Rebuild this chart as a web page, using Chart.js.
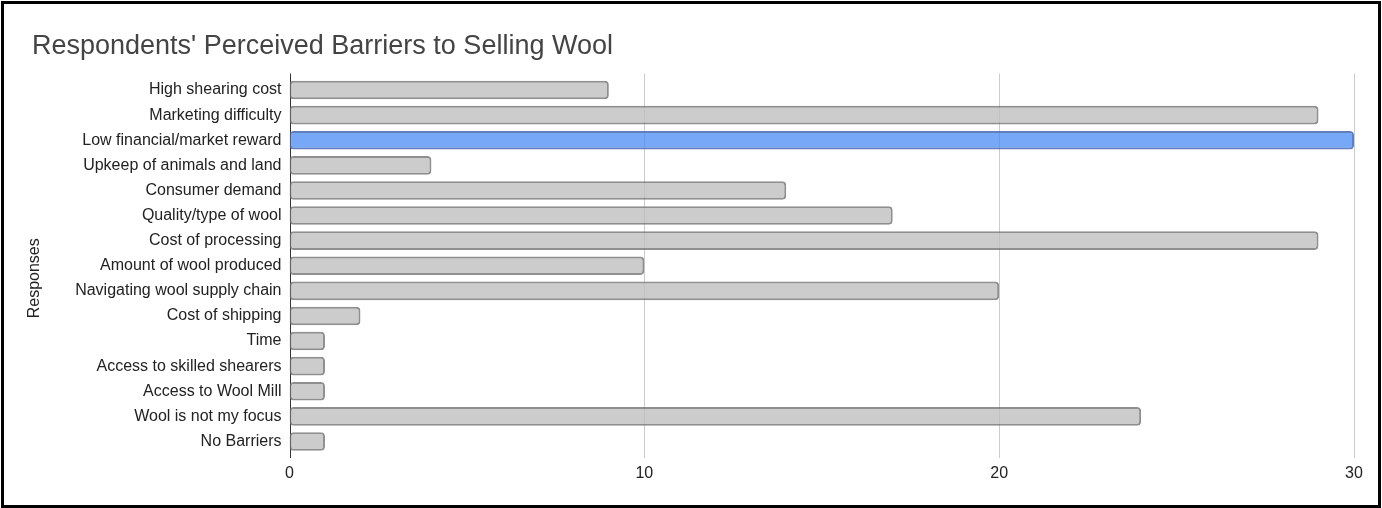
<!DOCTYPE html>
<html>
<head>
<meta charset="utf-8">
<script src="https://cdn.jsdelivr.net/npm/chart.js@4/dist/chart.umd.min.js"></script>
<style>
  html, body { margin: 0; padding: 0; background: #fff; }
  #frame {
    position: absolute; left: 1px; top: 1px;
    width: 1380px; height: 507px;
    box-sizing: border-box; border: 3px solid #000;
    background: #fff;
  }
  #wrap { position: absolute; left: 0; top: 0; width: 1374px; height: 501px; }
</style>
</head>
<body>
<div id="frame"><div id="wrap"><canvas id="chart"></canvas></div></div>
<script>
// Survey answers: barriers named by respondents and how many named each
const categories = [
  'High shearing cost',
  'Marketing difficulty',
  'Low financial/market reward',
  'Upkeep of animals and land',
  'Consumer demand',
  'Quality/type of wool',
  'Cost of processing',
  'Amount of wool produced',
  'Navigating wool supply chain',
  'Cost of shipping',
  'Time',
  'Access to skilled shearers',
  'Access to Wool Mill',
  'Wool is not my focus',
  'No Barriers'
];
const responses = [9, 29, 30, 4, 14, 17, 29, 10, 20, 2, 1, 1, 1, 24, 1];
const highlighted = 'Low financial/market reward';
const xTicks = [0, 10, 20, 30];
const yAxisTitle = 'Responses';

const FONT = '"Liberation Sans", Arial, sans-serif';

const fills = categories.map(c => c === highlighted ? 'rgba(66,133,244,0.72)' : 'rgba(190,190,190,0.78)');
const edges = categories.map(c => c === highlighted ? 'rgba(70,105,175,0.85)' : 'rgba(115,115,115,0.8)');

// Vertical gridlines and the zero axis, drawn a few pixels past the plot band
const axisLines = {
  id: 'axisLines',
  beforeDatasetsDraw(chart) {
    const {ctx, chartArea, scales: {x}} = chart;
    const top = chartArea.top - 4, bottom = chartArea.bottom + 4;
    ctx.save();
    ctx.lineWidth = 1;
    xTicks.forEach(v => {
      const px = Math.round(x.getPixelForValue(v)) + 0.5;
      ctx.strokeStyle = v === 0 ? '#333333' : '#cccccc';
      ctx.beginPath();
      ctx.moveTo(px, top);
      ctx.lineTo(px, bottom);
      ctx.stroke();
    });
    ctx.restore();
  },
  // rotated title of the category axis, centred on the whole axis line span
  afterDraw(chart) {
    const {ctx, chartArea} = chart;
    ctx.save();
    ctx.font = '16px ' + FONT;
    ctx.fillStyle = '#222222';
    ctx.textAlign = 'center';
    ctx.textBaseline = 'middle';
    ctx.translate(31, (chartArea.top + chartArea.bottom) / 2 + 12.5);
    ctx.rotate(-Math.PI / 2);
    ctx.fillText(yAxisTitle, 0, 0);
    ctx.restore();
  }
};

new Chart(document.getElementById('chart'), {
  type: 'bar',
  data: {
    labels: categories,
    datasets: [{
      data: responses,
      backgroundColor: fills,
      borderColor: edges,
      borderWidth: 2,
      borderRadius: 4,
      borderSkipped: false,
      categoryPercentage: 1,
      barPercentage: 0.74
    }]
  },
  plugins: [axisLines],
  options: {
    indexAxis: 'y',
    responsive: true,
    maintainAspectRatio: false,
    animation: false,
    layout: { padding: { left: 28, right: 24, top: 0, bottom: 16 } },
    plugins: {
      legend: { display: false },
      tooltip: { enabled: false },
      title: {
        display: true,
        text: "Respondents' Perceived Barriers to Selling Wool",
        align: 'start',
        color: '#444444',
        font: { family: FONT, size: 27, weight: 'normal', lineHeight: 1.2 },
        padding: { top: 26.8, bottom: 14.3 }
      }
    },
    scales: {
      x: {
        type: 'linear',
        min: 0,
        max: 30,
        afterBuildTicks(scale) { scale.ticks = xTicks.map(v => ({ value: v })); },
        grid: { display: false, drawTicks: false },
        border: { display: false },
        ticks: {
          color: '#222222',
          font: { family: FONT, size: 16 },
          padding: 10,
          maxRotation: 0
        },
        afterFit(scale) { scale.height = 35; }
      },
      y: {
        type: 'category',
        grid: { display: false, drawTicks: false },
        border: { display: false },
        ticks: {
          color: '#222222',
          font: { family: FONT, size: 16 },
          padding: 8,
          autoSkip: false
        },
        afterFit(scale) { scale.width = 257.5; }
      }
    }
  }
});
</script>
</body>
</html>
